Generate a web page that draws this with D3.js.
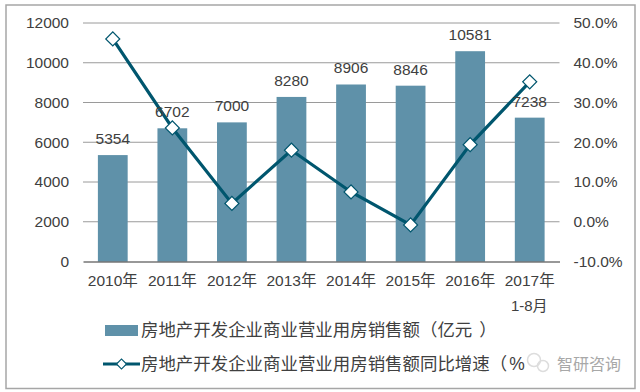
<!DOCTYPE html>
<html>
<head>
<meta charset="utf-8">
<script src="https://cdn.jsdelivr.net/npm/d3@7"></script>
<style>
body { margin: 0; background: #fff; }
text { font-family: "Liberation Sans", "Noto Sans CJK SC", sans-serif; fill: #404040; }
</style>
</head>
<body>
<div id="chart"></div>
<script>
// values
const categories = ['2010年', '2011年', '2012年', '2013年', '2014年', '2015年', '2016年', '2017年'];
const sales = [5354, 6702, 7000, 8280, 8906, 8846, 10581, 7238];
const growth = [46.0, 23.6, 4.6, 18.0, 7.5, -0.8, 19.4, 35.2];
const leftTicks = [0, 2000, 4000, 6000, 8000, 10000, 12000];
const rightTicks = [-10, 0, 10, 20, 30, 40, 50];
const legendName = '房地产开发企业商业营业用房销售额';
const legendLineName = '同比增速';

const barColor = '#5f91a9';
const lineColor = '#00566e';

const svg = d3.select('#chart').append('svg')
    .attr('width', 640)
    .attr('height', 392)
    .style('display', 'block');

// outer frame
svg.append('rect')
    .attr('x', 6).attr('y', 5)
    .attr('width', 629).attr('height', 383.5)
    .attr('fill', '#fff')
    .attr('stroke', '#a6a6a6')
    .attr('stroke-width', 1.5);

const margin = { left: 83, right: 559.5, top: 23, bottom: 261.5 };

const x = d3.scaleBand()
    .domain(categories)
    .range([margin.left, margin.right])
    .paddingInner(0.5)
    .paddingOuter(0.25);

const y = d3.scaleLinear().domain([0, 12000]).range([margin.bottom, margin.top]);
const y2 = d3.scaleLinear().domain([-10, 50]).range([margin.bottom, margin.top]);

// gridlines
svg.append('g')
    .selectAll('line')
    .data(leftTicks.slice(1))
    .enter().append('line')
    .attr('x1', margin.left).attr('x2', margin.right)
    .attr('y1', d => y(d)).attr('y2', d => y(d))
    .attr('stroke', '#9a9a9a')
    .attr('stroke-width', 1);

// bars
svg.append('g')
    .selectAll('rect')
    .data(sales)
    .enter().append('rect')
    .attr('x', (d, i) => x(categories[i]))
    .attr('y', d => y(d))
    .attr('width', x.bandwidth())
    .attr('height', d => y(0) - y(d))
    .attr('fill', barColor);

// axes
const leftAxis = svg.append('g')
    .attr('transform', `translate(${margin.left},0)`)
    .call(d3.axisLeft(y).tickValues(leftTicks).tickSize(0).tickPadding(14).tickFormat(d3.format('d')));
leftAxis.select('.domain').remove();

const rightAxis = svg.append('g')
    .attr('transform', `translate(${margin.right},0)`)
    .call(d3.axisRight(y2).tickValues(rightTicks).tickSize(0).tickPadding(14).tickFormat(d => d.toFixed(1) + '%'));
rightAxis.select('.domain').remove();

const bottomAxis = svg.append('g')
    .attr('transform', `translate(0,${margin.bottom})`)
    .call(d3.axisBottom(x).tickSize(0).tickPadding(13));
bottomAxis.select('.domain').attr('stroke', '#333').attr('stroke-width', 1.2);

svg.selectAll('.tick text')
    .style('font-family', '"Liberation Sans", "Noto Sans CJK SC", sans-serif')
    .style('font-size', '15.5px')
    .style('fill', '#404040');

// second row of the last label
svg.append('text')
    .attr('x', x(categories[7]) + x.bandwidth() / 2 - 0.5)
    .attr('y', 310.5)
    .attr('text-anchor', 'middle')
    .style('font-size', '15px')
    .text('1-8月');

// growth line
const line = d3.line()
    .x((d, i) => x(categories[i]) + x.bandwidth() / 2)
    .y(d => y2(d));

svg.append('path')
    .datum(growth)
    .attr('d', line)
    .attr('fill', 'none')
    .attr('stroke', lineColor)
    .attr('stroke-width', 3.2);

// data labels
svg.append('g')
    .selectAll('text')
    .data(sales)
    .enter().append('text')
    .attr('x', (d, i) => x(categories[i]) + x.bandwidth() / 2)
    .attr('y', d => y(d) - 11)
    .attr('text-anchor', 'middle')
    .style('font-size', '15.5px')
    .text(d => d);

// diamonds
const diamond = d3.symbol().type(d3.symbolSquare).size(98);
svg.append('g')
    .selectAll('path')
    .data(growth)
    .enter().append('path')
    .attr('d', diamond)
    .attr('transform', (d, i) => `translate(${x(categories[i]) + x.bandwidth() / 2},${y2(d)}) rotate(45)`)
    .attr('fill', '#fff')
    .attr('stroke', lineColor)
    .attr('stroke-width', 1.2);

// legend
svg.append('rect')
    .attr('x', 105).attr('y', 325)
    .attr('width', 33).attr('height', 11)
    .attr('fill', barColor);

// closing bracket sits further right in the reference, so nudge it with dx
const legend1 = svg.append('text')
    .attr('x', 141).attr('y', 336)
    .style('font-size', '17.44px');
legend1.append('tspan').text(legendName + '（亿元');
legend1.append('tspan').attr('dx', 7).text('）');

svg.append('line')
    .attr('x1', 103).attr('x2', 140)
    .attr('y1', 364).attr('y2', 364)
    .attr('stroke', lineColor)
    .attr('stroke-width', 3.2);

svg.append('path')
    .attr('d', d3.symbol().type(d3.symbolSquare).size(50))
    .attr('transform', 'translate(121.5,364) rotate(45)')
    .attr('fill', '#fff')
    .attr('stroke', lineColor)
    .attr('stroke-width', 1.2);

const legend2 = svg.append('text')
    .attr('x', 141).attr('y', 369.5)
    .style('font-size', '17.44px');
legend2.append('tspan').text(legendName + legendLineName + '（');
legend2.append('tspan').attr('dx', 2).text('%');
legend2.append('tspan').attr('dx', 6).text('）');

// watermark
svg.append('circle')
    .attr('cx', 538).attr('cy', 363)
    .attr('r', 13)
    .attr('fill', '#fff');
svg.append('circle')
    .attr('cx', 534).attr('cy', 360)
    .attr('r', 6.5)
    .attr('fill', 'none')
    .attr('stroke', '#ddd')
    .attr('stroke-width', 1.5);
svg.append('circle')
    .attr('cx', 543).attr('cy', 366)
    .attr('r', 5.5)
    .attr('fill', 'none')
    .attr('stroke', '#ddd')
    .attr('stroke-width', 1.5);
svg.append('text')
    .attr('x', 557).attr('y', 370)
    .style('font-size', '16px')
    .style('fill', '#a8a8a8')
    .text('智研咨询');
</script>
</body>
</html>
